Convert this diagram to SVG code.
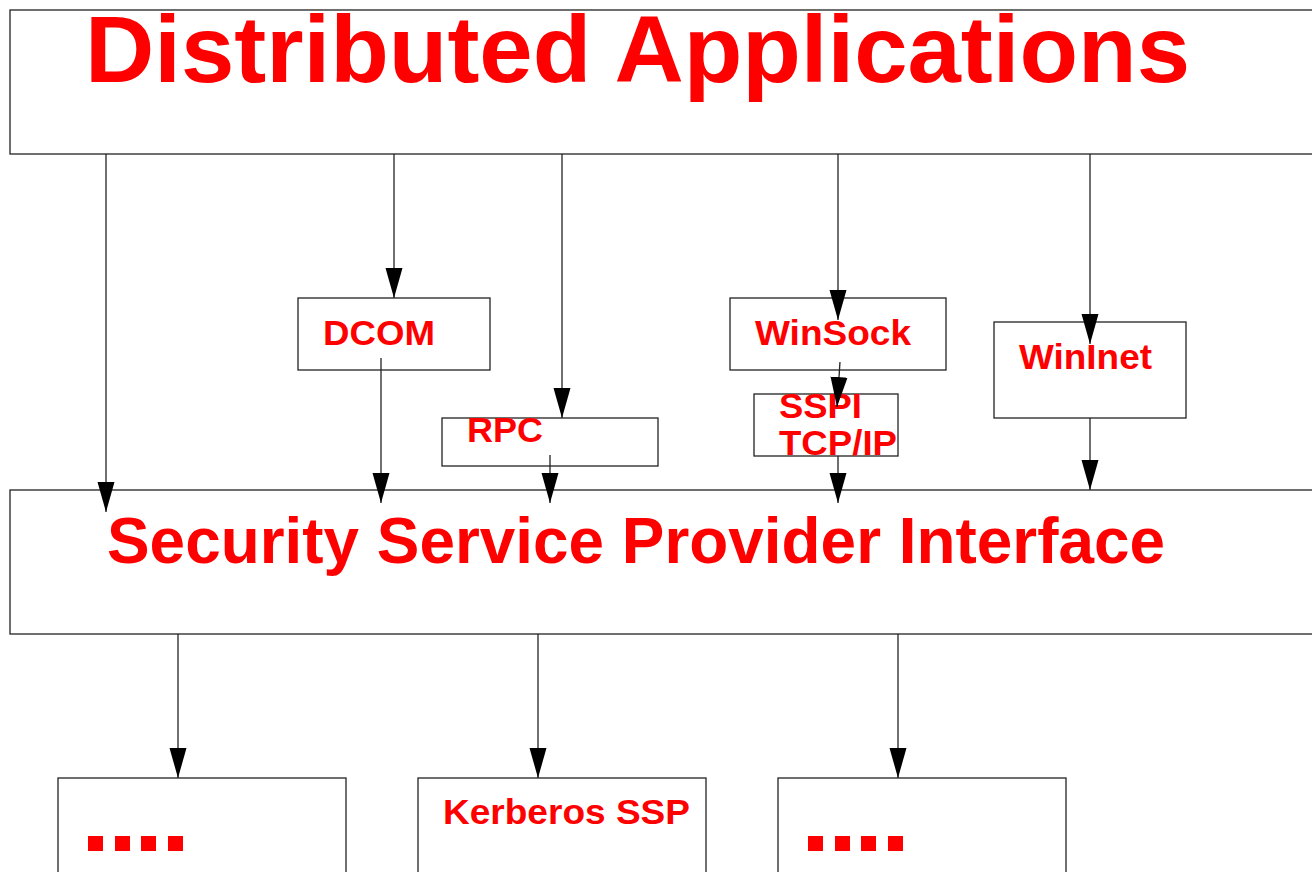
<svg xmlns="http://www.w3.org/2000/svg" width="1312" height="872" viewBox="0 0 1312 872">
  <style>
    .box { fill: #ffffff; stroke: #222222; stroke-width: 1.3; }
    .wire { fill: none; stroke: #222222; stroke-width: 1.3; marker-end: url(#head); }
    .lbl { font-family: "Liberation Sans", Arial, sans-serif; font-weight: bold; fill: #ff0000; }
    .small { font-size: 35px; }
    .dot { fill: #ff0000; }
  </style>
  <defs>
    <!-- filled triangular arrowhead, tip at the end of the line -->
    <marker id="head" markerUnits="userSpaceOnUse" markerWidth="30" markerHeight="18" viewBox="0 0 30 18" refX="30" refY="9" orient="auto">
      <path d="M0,0.5 L30,9 L0,17.5 Z" fill="#000000"/>
    </marker>
  </defs>
  <rect width="1312" height="872" fill="#ffffff"/>

  <g id="distributed-applications">
    <rect class="box" x="10" y="10" width="1320" height="144"/>
    <text class="lbl" x="85" y="82" font-size="95" textLength="1105" lengthAdjust="spacingAndGlyphs">Distributed Applications</text>
  </g>

  <g id="dcom">
    <rect class="box" x="298" y="298" width="192" height="72"/>
    <text class="lbl small" x="323" y="345" textLength="112" lengthAdjust="spacingAndGlyphs">DCOM</text>
  </g>

  <g id="rpc">
    <rect class="box" x="442" y="418" width="216" height="48"/>
    <text class="lbl small" x="467" y="442" textLength="76" lengthAdjust="spacingAndGlyphs">RPC</text>
  </g>

  <g id="winsock">
    <rect class="box" x="730" y="298" width="216" height="72"/>
    <text class="lbl small" x="755" y="345" textLength="156" lengthAdjust="spacingAndGlyphs">WinSock</text>
  </g>

  <g id="sspi-tcpip">
    <rect class="box" x="754" y="394" width="144" height="62"/>
    <text class="lbl small" x="779" y="418" textLength="83" lengthAdjust="spacingAndGlyphs">SSPI</text>
    <text class="lbl small" x="779" y="455" textLength="118" lengthAdjust="spacingAndGlyphs">TCP/IP</text>
  </g>

  <g id="wininet">
    <rect class="box" x="994" y="322" width="192" height="96"/>
    <text class="lbl small" x="1019" y="369" textLength="133" lengthAdjust="spacingAndGlyphs">WinInet</text>
  </g>

  <g id="sspi">
    <rect class="box" x="10" y="490" width="1320" height="144"/>
    <text class="lbl" x="107" y="563" font-size="65" textLength="1058" lengthAdjust="spacingAndGlyphs">Security Service Provider Interface</text>
  </g>

  <g id="ssp-left">
    <rect class="box" x="58" y="778" width="288" height="110"/>
    <rect class="dot" x="88" y="836" width="15" height="15"/>
    <rect class="dot" x="115" y="836" width="15" height="15"/>
    <rect class="dot" x="141" y="836" width="15" height="15"/>
    <rect class="dot" x="168" y="836" width="15" height="15"/>
  </g>

  <g id="kerberos-ssp">
    <rect class="box" x="418" y="778" width="288" height="110"/>
    <text class="lbl small" x="443" y="824" textLength="247" lengthAdjust="spacingAndGlyphs">Kerberos SSP</text>
  </g>

  <g id="ssp-right">
    <rect class="box" x="778" y="778" width="288" height="110"/>
    <rect class="dot" x="808" y="836" width="15" height="15"/>
    <rect class="dot" x="835" y="836" width="15" height="15"/>
    <rect class="dot" x="861" y="836" width="15" height="15"/>
    <rect class="dot" x="888" y="836" width="15" height="15"/>
  </g>

  <g id="connectors">
    <!-- from Distributed Applications -->
    <line class="wire" x1="106" y1="154" x2="106" y2="512"/>
    <line class="wire" x1="394" y1="154" x2="394" y2="298"/>
    <line class="wire" x1="562" y1="154" x2="562" y2="418"/>
    <line class="wire" x1="838" y1="154" x2="838" y2="320"/>
    <line class="wire" x1="1090" y1="154" x2="1090" y2="344"/>
    <!-- into Security Service Provider Interface -->
    <line class="wire" x1="381" y1="358" x2="381" y2="503"/>
    <line class="wire" x1="550" y1="455" x2="550" y2="503"/>
    <line class="wire" x1="840" y1="362" x2="837" y2="407"/>
    <line class="wire" x1="838" y1="456" x2="838" y2="503"/>
    <line class="wire" x1="1090" y1="418" x2="1090" y2="490"/>
    <!-- out to the providers -->
    <line class="wire" x1="178" y1="634" x2="178" y2="778"/>
    <line class="wire" x1="538" y1="634" x2="538" y2="778"/>
    <line class="wire" x1="898" y1="634" x2="898" y2="778"/>
  </g>
</svg>
